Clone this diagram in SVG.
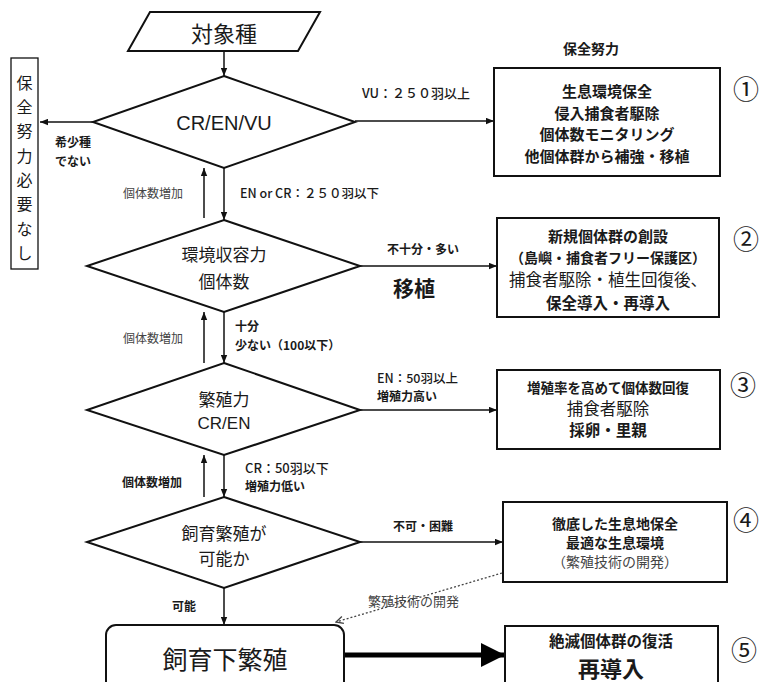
<svg xmlns="http://www.w3.org/2000/svg" width="761" height="682" viewBox="0 0 761 682">
<defs>
<style>
text{font-family:"Noto Sans CJK JP","Liberation Sans",sans-serif;fill:#1a1a1a;dominant-baseline:central}
.lat{font-family:"Liberation Sans","Noto Sans CJK JP",sans-serif}
.shape{fill:#fff;stroke:#111;stroke-width:2}
.box{fill:#fff;stroke:#111;stroke-width:2}
.ln{stroke:#111;stroke-width:1.5;fill:none}
.b{font-weight:bold}
.m{font-weight:500}
.s12{font-size:12px}
.g{fill:#444}
.c{text-anchor:middle}
.num{font-size:26px;text-anchor:middle}
</style>
<marker id="ah" viewBox="0 0 10 8" refX="10" refY="4" markerWidth="8" markerHeight="7" markerUnits="userSpaceOnUse" orient="auto">
<path d="M0,0 L10,4 L0,8 z" fill="#111"/>
</marker>
<marker id="ahBig" viewBox="0 0 10 10" refX="10" refY="5" markerWidth="24" markerHeight="24" markerUnits="userSpaceOnUse" orient="auto">
<path d="M0,0 L10,5 L0,10 z" fill="#000"/>
</marker>
<marker id="ahOpen" viewBox="0 0 10 10" refX="9" refY="5" markerWidth="9" markerHeight="9" markerUnits="userSpaceOnUse" orient="auto">
<path d="M1,1 L9,5 L1,9" fill="none" stroke="#444" stroke-width="1.5"/>
</marker>
</defs>
<rect width="761" height="682" fill="#fff"/>

<g id="connectors">
<line class="ln" x1="224" y1="51" x2="224" y2="76" marker-end="url(#ah)"/>
<line class="ln" x1="93" y1="122" x2="40" y2="122" marker-end="url(#ah)"/>
<line class="ln" x1="355" y1="121" x2="494" y2="121" marker-end="url(#ah)"/>
<line class="ln" x1="224" y1="168" x2="224" y2="220" marker-end="url(#ah)"/>
<line class="ln" x1="204" y1="218" x2="204" y2="168" marker-end="url(#ah)"/>
<line class="ln" x1="360" y1="266" x2="497" y2="266" marker-end="url(#ah)"/>
<line class="ln" x1="224" y1="312" x2="224" y2="363" marker-end="url(#ah)"/>
<line class="ln" x1="204" y1="363" x2="204" y2="312" marker-end="url(#ah)"/>
<line class="ln" x1="360" y1="410" x2="497" y2="410" marker-end="url(#ah)"/>
<line class="ln" x1="224" y1="455" x2="224" y2="497" marker-end="url(#ah)"/>
<line class="ln" x1="204" y1="497" x2="204" y2="455" marker-end="url(#ah)"/>
<line class="ln" x1="360" y1="542" x2="503" y2="542" marker-end="url(#ah)"/>
<line class="ln" x1="224" y1="588" x2="224" y2="625" marker-end="url(#ah)"/>
<line x1="502" y1="573" x2="336" y2="622" stroke="#444" stroke-width="1.3" stroke-dasharray="2,2" marker-end="url(#ahOpen)"/>
<line x1="344" y1="655" x2="505" y2="655" stroke="#000" stroke-width="5" marker-end="url(#ahBig)"/>
</g>

<g id="labels">
<text class="b s12" x="55" y="141">希少種</text>
<text class="b s12" x="55" y="160">でない</text>
<text class="s12 g" x="123" y="192">個体数増加</text>
<text class="m" x="240" y="192" style="font-size:12.5px">EN or CR：２５０羽以下</text>
<text class="m" x="362" y="92" style="font-size:13px">VU：２５０羽以上</text>
<text class="b s12" x="387" y="248">不十分・多い</text>
<text class="b" x="393" y="287" style="font-size:21px">移植</text>
<text class="s12 g" x="123" y="337">個体数増加</text>
<text class="b s12" x="235" y="325">十分</text>
<text class="b s12" x="235" y="344">少ない（100以下）</text>
<text class="m" x="377" y="377" style="font-size:12.5px">EN：50羽以上</text>
<text class="b s12" x="377" y="395">増殖力高い</text>
<text class="b s12" x="122" y="481">個体数増加</text>
<text class="m" x="245" y="467" style="font-size:13px">CR：50羽以下</text>
<text class="b s12" x="245" y="485">増殖力低い</text>
<text class="b s12" x="393" y="525">不可・困難</text>
<text class="b s12" x="172" y="605">可能</text>
<text class="g" x="368" y="600" style="font-size:13px">繁殖技術の開発</text>
<text class="b c" x="591" y="48" style="font-size:14px">保全努力</text>
</g>

<g id="start">
<polygon class="shape" points="150,12 320,12 298,51 128,51"/>
<text class="c" x="224" y="32" style="font-size:22px">対象種</text>
</g>

<g id="no-effort">
<rect x="11" y="58" width="27" height="211" fill="#fff" stroke="#111" stroke-width="1.3"/>
<g class="c" style="font-size:16px">
<text x="24.5" y="82">保</text>
<text x="24.5" y="106">全</text>
<text x="24.5" y="130">努</text>
<text x="24.5" y="155">力</text>
<text x="24.5" y="179">必</text>
<text x="24.5" y="203">要</text>
<text x="24.5" y="228">な</text>
<text x="24.5" y="252">し</text>
</g>
</g>

<g id="d1">
<polygon class="shape" points="224,76 355,122 224,168 93,122"/>
<text class="c lat" x="224" y="123" style="font-size:20px">CR/EN/VU</text>
</g>

<g id="d2">
<polygon class="shape" points="224,220 360,266 224,312 87,266"/>
<text class="c" x="224" y="253" style="font-size:17px">環境収容力</text>
<text class="c" x="224" y="280" style="font-size:17px">個体数</text>
</g>

<g id="d3">
<polygon class="shape" points="224,363 360,410 224,455 87,410"/>
<text class="c" x="224" y="398" style="font-size:17px">繁殖力</text>
<text class="c lat" x="224" y="423" style="font-size:17px">CR/EN</text>
</g>

<g id="d4">
<polygon class="shape" points="224,497 360,542 224,588 87,542"/>
<text class="c" x="224" y="532" style="font-size:17px">飼育繁殖が</text>
<text class="c" x="224" y="557" style="font-size:17px">可能か</text>
</g>

<g id="captive">
<rect class="box" x="106" y="625" width="238" height="80" rx="10" stroke-width="1.5"/>
<text class="c" x="225" y="658" style="font-size:25px">飼育下繁殖</text>
</g>

<g id="box1">
<rect class="box" x="494" y="68" width="226" height="108"/>
<g class="b c" style="font-size:15px">
<text x="607" y="90">生息環境保全</text>
<text x="607" y="112">侵入捕食者駆除</text>
<text x="607" y="133">個体数モニタリング</text>
<text x="607" y="155">他個体群から補強・移植</text>
</g>
<text class="num" x="746" y="87">①</text>
</g>

<g id="box2">
<rect class="box" x="497" y="218" width="222" height="99"/>
<text class="b c" x="608" y="235" style="font-size:15px">新規個体群の創設</text>
<text class="b c" x="608" y="257" style="font-size:14px">（島嶼・捕食者フリー保護区）</text>
<text class="c" x="608" y="279" style="font-size:16.5px">捕食者駆除・植生回復後、</text>
<text class="b c" x="608" y="302" style="font-size:15.5px">保全導入・再導入</text>
<text class="num" x="746" y="237">②</text>
</g>

<g id="box3">
<rect class="box" x="497" y="370" width="223" height="79"/>
<text class="b c" x="608" y="387" style="font-size:13.5px">増殖率を高めて個体数回復</text>
<text class="c" x="608" y="408" style="font-size:16.5px">捕食者駆除</text>
<text class="b c" x="608" y="429" style="font-size:15.5px">採卵・里親</text>
<text class="num" x="743" y="383">③</text>
</g>

<g id="box4">
<rect class="box" x="503" y="502" width="224" height="80"/>
<text class="b c" x="615" y="523" style="font-size:14px">徹底した生息地保全</text>
<text class="b c" x="615" y="542" style="font-size:14px">最適な生息環境</text>
<text class="c g" x="615" y="561" style="font-size:14px">（繁殖技術の開発）</text>
<text class="num" x="746" y="518">④</text>
</g>

<g id="box5">
<rect class="box" x="505" y="626" width="213" height="80"/>
<text class="b c" x="611" y="640" style="font-size:15.5px">絶滅個体群の復活</text>
<text class="b c" x="611" y="667" style="font-size:22px">再導入</text>
<text class="num" x="744" y="648">⑤</text>
</g>
</svg>
